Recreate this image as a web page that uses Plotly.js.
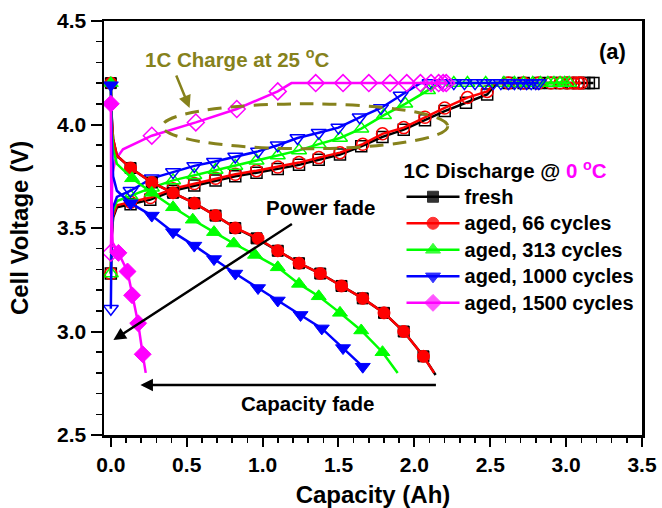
<!DOCTYPE html>
<html>
<head>
<meta charset="utf-8">
<script src="https://cdn.plot.ly/plotly-3.0.1.min.js"></script>
<style>html,body{margin:0;padding:0;background:#fff;}</style>
</head>
<body>
<div id="chart" style="width:662px;height:508px;"></div>
<script>
// ---------- Data ----------
// Discharge at 0 °C (filled markers)
const disFreshX = [0, 0.005, 0.015, 0.04, 0.13, 0.27, 0.41, 0.55, 0.69, 0.82, 0.96, 1.10, 1.24, 1.38, 1.52, 1.66, 1.80, 1.93, 2.06, 2.14];
const disFreshY = [4.20, 4.05, 3.93, 3.85, 3.79, 3.72, 3.67, 3.62, 3.56, 3.50, 3.45, 3.39, 3.33, 3.28, 3.22, 3.16, 3.09, 3.00, 2.88, 2.79];
const dis66X = [0, 0.005, 0.015, 0.04, 0.13, 0.27, 0.41, 0.55, 0.69, 0.82, 0.97, 1.10, 1.24, 1.38, 1.52, 1.66, 1.80, 1.93, 2.06, 2.13];
const dis66Y = [4.20, 4.04, 3.93, 3.85, 3.79, 3.72, 3.67, 3.62, 3.56, 3.50, 3.45, 3.39, 3.33, 3.28, 3.22, 3.16, 3.09, 3.00, 2.88, 2.80];
const dis313X = [0, 0.005, 0.015, 0.04, 0.14, 0.27, 0.41, 0.54, 0.68, 0.81, 0.95, 1.10, 1.24, 1.37, 1.51, 1.65, 1.79, 1.89];
const dis313Y = [4.20, 4.00, 3.88, 3.81, 3.74, 3.67, 3.60, 3.54, 3.48, 3.425, 3.37, 3.31, 3.23, 3.17, 3.09, 3.005, 2.90, 2.80];
const dis1000X = [0, 0.005, 0.015, 0.04, 0.13, 0.27, 0.41, 0.55, 0.68, 0.82, 0.97, 1.10, 1.25, 1.39, 1.53, 1.66];
const dis1000Y = [4.19, 3.95, 3.75, 3.68, 3.62, 3.56, 3.48, 3.415, 3.35, 3.28, 3.21, 3.15, 3.08, 3.015, 2.92, 2.83];
const dis1500X = [0, 0.003, 0.012, 0.05, 0.11, 0.14, 0.18, 0.21, 0.23];
const dis1500Y = [4.10, 3.60, 3.43, 3.38, 3.29, 3.175, 3.04, 2.89, 2.80];

// Charge at 25 °C (open markers)
const chgFreshX = [0, 0.005, 0.015, 0.04, 0.13, 0.26, 0.41, 0.55, 0.69, 0.82, 0.96, 1.10, 1.24, 1.37, 1.51, 1.65, 1.79, 1.93, 2.07, 2.20, 2.34, 2.48, 2.54, 2.62, 2.72, 2.82, 2.90, 2.97, 3.03, 3.08, 3.12, 3.15, 3.18];
const chgFreshY = [3.28, 3.45, 3.55, 3.60, 3.615, 3.637, 3.68, 3.705, 3.73, 3.75, 3.767, 3.785, 3.805, 3.83, 3.855, 3.895, 3.94, 3.975, 4.02, 4.065, 4.105, 4.145, 4.20, 4.20, 4.20, 4.20, 4.20, 4.20, 4.20, 4.20, 4.20, 4.20, 4.20];
const chg66X = [0, 0.005, 0.015, 0.04, 0.13, 0.26, 0.41, 0.55, 0.69, 0.82, 0.96, 1.10, 1.24, 1.37, 1.51, 1.66, 1.79, 1.93, 2.07, 2.20, 2.35, 2.48, 2.53, 2.62, 2.72, 2.82, 2.90, 2.96, 3.01, 3.05, 3.08, 3.10];
const chg66Y = [3.28, 3.46, 3.56, 3.61, 3.625, 3.647, 3.69, 3.715, 3.74, 3.76, 3.777, 3.795, 3.816, 3.84, 3.864, 3.905, 3.955, 3.985, 4.035, 4.08, 4.13, 4.16, 4.20, 4.20, 4.20, 4.20, 4.20, 4.20, 4.20, 4.20, 4.20, 4.20];
const chg313X = [0, 0.005, 0.015, 0.04, 0.13, 0.27, 0.41, 0.55, 0.69, 0.82, 0.96, 1.10, 1.24, 1.37, 1.51, 1.65, 1.80, 1.94, 2.09, 2.17, 2.26, 2.35, 2.47, 2.59, 2.66, 2.72, 2.78, 2.83, 2.88, 2.92, 2.96, 2.99, 3.02];
const chg313Y = [3.28, 3.48, 3.58, 3.63, 3.655, 3.695, 3.73, 3.755, 3.78, 3.80, 3.825, 3.85, 3.875, 3.905, 3.935, 3.98, 4.045, 4.10, 4.165, 4.20, 4.20, 4.20, 4.20, 4.20, 4.20, 4.20, 4.20, 4.20, 4.20, 4.20, 4.20, 4.20, 4.20];
const chg1000X = [0, 0.005, 0.015, 0.04, 0.13, 0.27, 0.41, 0.55, 0.68, 0.82, 0.97, 1.10, 1.23, 1.37, 1.50, 1.64, 1.78, 1.91, 2.04, 2.10, 2.18, 2.26, 2.33, 2.40, 2.46, 2.52, 2.57, 2.62, 2.66, 2.70, 2.74, 2.77, 2.80, 2.82];
const chg1000Y = [3.11, 3.45, 3.60, 3.65, 3.68, 3.74, 3.77, 3.80, 3.82, 3.845, 3.87, 3.90, 3.935, 3.96, 3.985, 4.035, 4.08, 4.14, 4.20, 4.20, 4.20, 4.20, 4.20, 4.20, 4.20, 4.20, 4.20, 4.20, 4.20, 4.20, 4.20, 4.20, 4.20, 4.20];
const chg1500X = [0, 0.003, 0.01, 0.03, 0.08, 0.27, 0.56, 0.83, 1.10, 1.19, 1.35, 1.53, 1.70, 1.84, 1.95, 2.04, 2.11, 2.16, 2.19, 2.21];
const chg1500Y = [3.38, 3.60, 3.76, 3.83, 3.88, 3.946, 4.01, 4.075, 4.16, 4.20, 4.20, 4.20, 4.20, 4.20, 4.20, 4.20, 4.20, 4.20, 4.20, 4.20];

const seriesNames = ['fresh', 'aged, 66 cycles', 'aged, 313 cycles', 'aged, 1000 cycles', 'aged, 1500 cycles'];

// ---------- Styling / build ----------
const FONT = 'Liberation Sans, Arial, Helvetica, sans-serif';
const colors = ['#000000', '#ff0000', '#00ff00', '#0000ff', '#ff00ff'];
const fillSym = ['square', 'circle', 'triangle-up', 'triangle-down', 'diamond'];
const openSym = ['square-open', 'circle-open', 'triangle-up-open', 'triangle-down-open', 'diamond-open'];
const msize = [11, 12, 13, 13, 13];

// which vertices are plain bends of the line (no marker drawn)
const disPlain = [[1,2,3,19],[1,2,3,19],[1,2,3,17],[1,2,3],[1,2,8]];
const chgPlain = [[1,2,3,22],[1,2,3,22],[1,2,3,19],[1,2,3,18],[1,2,3,4,9]];

const disX = [disFreshX, dis66X, dis313X, dis1000X, dis1500X];
const disY = [disFreshY, dis66Y, dis313Y, dis1000Y, dis1500Y];
const chgX = [chgFreshX, chg66X, chg313X, chg1000X, chg1500X];
const chgY = [chgFreshY, chg66Y, chg313Y, chg1000Y, chg1500Y];

function opac(n, plain){ const o=[]; for(let i=0;i<n;i++) o.push(plain.includes(i)?0:1); return o; }

const traces = [];
for (let k = 0; k < 5; k++) {
  traces.push({
    x: chgX[k], y: chgY[k], type: 'scatter', mode: 'lines+markers', showlegend: false,
    line: {color: colors[k], width: 2.5},
    marker: {symbol: openSym[k], size: msize[k], color: colors[k], opacity: opac(chgX[k].length, chgPlain[k]), line: {color: colors[k], width: 1.5}},
    hoverinfo: 'skip'
  });
}
for (let k = 0; k < 5; k++) {
  traces.push({
    x: disX[k], y: disY[k], type: 'scatter', mode: 'lines+markers',
    name: '<span style="font-size:20px">' + seriesNames[k] + '</span>',
    line: {color: colors[k], width: 2.5},
    marker: {symbol: fillSym[k], size: msize[k], color: colors[k], opacity: opac(disX[k].length, disPlain[k]), line: {color: colors[k], width: 1}},
    hoverinfo: 'skip'
  });
}

const olive = '#86821c';
const bold = (s, c) => ({family: FONT, size: s, color: c || '#000', weight: 'bold'});

const layout = {
  width: 662, height: 508,
  margin: {l: 104, r: 20, t: 21, b: 73},
  paper_bgcolor: '#fff', plot_bgcolor: '#fff',
  font: {family: FONT, color: '#000'},
  xaxis: {
    range: [-0.045, 3.5], tick0: 0, dtick: 0.5, tickformat: '.1f',
    ticks: 'outside', ticklen: 9, tickwidth: 2, tickcolor: '#000',
    minor: {dtick: 0.1, tick0: 0, ticks: 'outside', ticklen: 5, tickwidth: 1.5, tickcolor: '#000'},
    showline: true, linewidth: 2.5, linecolor: '#000', mirror: true,
    showgrid: false, zeroline: false,
    tickfont: bold(21),
    title: {text: 'Capacity (Ah)', font: bold(24), standoff: 23}
  },
  yaxis: {
    range: [2.5, 4.5], tick0: 2.5, dtick: 0.5, tickformat: '.1f',
    ticks: 'outside', ticklen: 11, tickwidth: 2, tickcolor: '#000',
    minor: {dtick: 0.1, tick0: 2.5, ticks: 'outside', ticklen: 6, tickwidth: 1.5, tickcolor: '#000'},
    showline: true, linewidth: 2.5, linecolor: '#000', mirror: true,
    showgrid: false, zeroline: false,
    tickfont: bold(21),
    title: {text: 'Cell Voltage (V)', font: bold(24), standoff: 22}
  },
  legend: {
    x: 0.553, xanchor: 'left', y: 0.684, yanchor: 'top',
    bgcolor: 'rgba(0,0,0,0)', borderwidth: 0,
    font: bold(18.1), tracegroupgap: 0, itemwidth: 53,
    title: {text: '1C Discharge @ <span style="color:#ff00ff">0 <sup>o</sup>C</span>', font: bold(20.5), side: 'top'}
  },
  shapes: [{
    type: 'circle', xref: 'x', yref: 'y', x0: 0.34, x1: 2.22, y0: 3.883, y1: 4.10,
    line: {color: olive, width: 3, dash: '14px,9px'}
  }],
  annotations: [
    {x: 0.829, y: 4.321, xref: 'x', yref: 'y', text: '1C Charge at 25 <sup>o</sup>C', showarrow: false, font: bold(20.5, olive)},
    {x: 0.519, y: 4.08, ax: 0.427, ay: 4.244, xref: 'x', yref: 'y', axref: 'x', ayref: 'y', text: '', showarrow: true, arrowhead: 2, arrowsize: 1, arrowwidth: 2.5, arrowcolor: olive},
    {x: 1.38, y: 3.60, xref: 'x', yref: 'y', text: 'Power fade', showarrow: false, font: bold(20.5)},
    {x: 0.017, y: 2.959, ax: 1.203, ay: 3.524, xref: 'x', yref: 'y', axref: 'x', ayref: 'y', text: '', showarrow: true, arrowhead: 2, arrowsize: 1, arrowwidth: 2.5, arrowcolor: '#000'},
    {x: 0.195, y: 2.742, ax: 2.152, ay: 2.742, xref: 'x', yref: 'y', axref: 'x', ayref: 'y', text: '', showarrow: true, arrowhead: 2, arrowsize: 1, arrowwidth: 2.5, arrowcolor: '#000'},
    {x: 1.295, y: 2.65, xref: 'x', yref: 'y', text: 'Capacity fade', showarrow: false, font: bold(20.5)},
    {x: 3.305, y: 4.355, xref: 'x', yref: 'y', text: '(a)', showarrow: false, font: bold(22)}
  ]
};

Plotly.newPlot('chart', traces, layout, {displayModeBar: false, staticPlot: true});
</script>
</body>
</html>
